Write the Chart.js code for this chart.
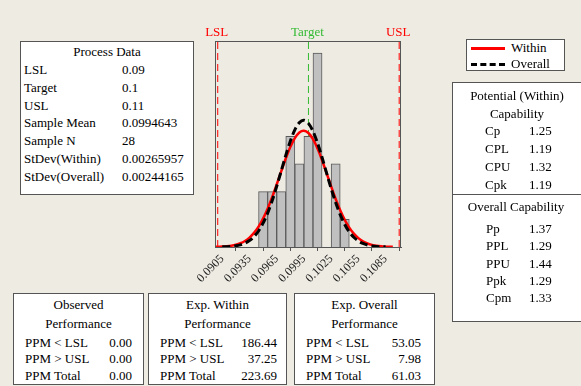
<!DOCTYPE html>
<html>
<head>
<meta charset="utf-8">
<script src="https://cdn.jsdelivr.net/npm/chart.js@4/dist/chart.umd.min.js"></script>
<style>
  html, body { margin: 0; padding: 0; background: #eeebe2; }
  #wrap { position: relative; width: 581px; height: 386px; overflow: hidden;
          font-family: "Liberation Serif", "Times New Roman", serif; font-size: 13px; color: #000; }
  #cv { position: absolute; left: 0; top: 0; }
  .box { position: absolute; background: #fff; border: 1px solid #555; box-sizing: border-box; }
  .t { position: absolute; white-space: nowrap; line-height: 16px; }
  .rule { position: absolute; height: 0; }
</style>
</head>
<body>
<div id="wrap">
  <canvas id="cv" width="581" height="386"></canvas>
</div>
<script>
// ── DATA ──────────────────────────────────────────────
const binCenters = [0.095, 0.096, 0.097, 0.098, 0.099, 0.100, 0.101, 0.102, 0.103, 0.104];
const binCounts  = [2, 2, 2, 4, 3, 4, 7, 0, 3, 1];

const withinX = [0.0897, 0.0900, 0.0905, 0.0910, 0.0915, 0.0920, 0.0925, 0.0930, 0.0935, 0.0940,
                 0.0945, 0.0950, 0.0955, 0.0960, 0.0965, 0.0970, 0.0975, 0.0980, 0.0985, 0.0990,
                 0.0995, 0.1000, 0.1005, 0.1010, 0.1015, 0.1020, 0.1025, 0.1030, 0.1035, 0.1040,
                 0.1045, 0.1050, 0.1055, 0.1060, 0.1065, 0.1070, 0.1075, 0.1080, 0.1085, 0.1090, 0.1093];
const withinY = [0.005, 0.008, 0.014, 0.027, 0.047, 0.082, 0.136, 0.219, 0.340, 0.509,
                 0.736, 1.027, 1.383, 1.798, 2.257, 2.734, 3.197, 3.609, 3.933, 4.137,
                 4.200, 4.116, 3.893, 3.555, 3.134, 2.666, 2.190, 1.736, 1.328, 0.981,
                 0.700, 0.481, 0.320, 0.205, 0.127, 0.076, 0.044, 0.024, 0.013, 0.007, 0.005];

const overallX = [0.0905, 0.0910, 0.0915, 0.0920, 0.0925, 0.0930, 0.0935, 0.0940, 0.0945, 0.0950,
                  0.0955, 0.0960, 0.0965, 0.0970, 0.0975, 0.0980, 0.0985, 0.0990, 0.0995, 0.1000,
                  0.1005, 0.1010, 0.1015, 0.1020, 0.1025, 0.1030, 0.1035, 0.1040, 0.1045, 0.1050,
                  0.1055, 0.1060, 0.1065, 0.1070, 0.1075, 0.1080, 0.1085];
const overallY = [0.005, 0.011, 0.022, 0.043, 0.078, 0.137, 0.232, 0.374, 0.579, 0.860,
                  1.225, 1.672, 2.190, 2.749, 3.310, 3.822, 4.232, 4.493, 4.575, 4.466,
                  4.182, 3.754, 3.232, 2.668, 2.112, 1.604, 1.167, 0.815, 0.545, 0.350,
                  0.216, 0.127, 0.072, 0.039, 0.020, 0.010, 0.005];

const specNames  = ["LSL", "Target", "USL"];
const specValues = [0.09, 0.1, 0.11];
const specColors = ["#ff0000", "#33bb33", "#ff0000"];

const tickValues = [0.0905, 0.0935, 0.0965, 0.0995, 0.1025, 0.1055, 0.1085];

const processLabels = ["LSL", "Target", "USL", "Sample Mean", "Sample N", "StDev(Within)", "StDev(Overall)"];
const processValues = ["0.09", "0.1", "0.11", "0.0994643", "28", "0.00265957", "0.00244165"];

const potentialLabels = ["Cp", "CPL", "CPU", "Cpk"];
const potentialValues = ["1.25", "1.19", "1.32", "1.19"];
const overallLabels   = ["Pp", "PPL", "PPU", "Ppk", "Cpm"];
const overallValues   = ["1.37", "1.29", "1.44", "1.29", "1.33"];

const ppmLabels   = ["PPM < LSL", "PPM > USL", "PPM Total"];
const observedPPM = ["0.00", "0.00", "0.00"];
const withinPPM   = ["186.44", "37.25", "223.69"];
const overallPPM  = ["53.05", "7.98", "61.03"];

const yMax = 7.44;

// ── HTML PANELS ───────────────────────────────────────
const wrap = document.getElementById("wrap");

function box(x, y, w, h) {
  const d = document.createElement("div");
  d.className = "box";
  Object.assign(d.style, { left: x + "px", top: y + "px", width: w + "px", height: h + "px" });
  wrap.appendChild(d);
}

function text(str, x, y, align) {
  const d = document.createElement("div");
  d.className = "t";
  d.textContent = str;
  const tx = align === "center" ? "-50%" : align === "right" ? "-100%" : "0";
  Object.assign(d.style, { left: x + "px", top: y + "px", transform: `translate(${tx},-50%)` });
  wrap.appendChild(d);
}

// process data
box(20, 41, 174, 154);
text("Process Data", 107, 52, "center");
processLabels.forEach((l, i) => {
  text(l, 24, 70 + i * 17.8, "left");
  text(processValues[i], 122, 70 + i * 17.8, "left");
});

// legend
box(466, 39, 99, 32);
const legendLines = [
  { y: 48, style: "3px solid #ff0000" },
  { y: 64, style: "3px dashed #000" },
];
legendLines.forEach(l => {
  const d = document.createElement("div");
  d.className = "rule";
  Object.assign(d.style, { left: "471px", top: (l.y - 1) + "px", width: "34px", borderTop: l.style });
  wrap.appendChild(d);
});
text("Within", 511, 48, "left");
text("Overall", 511, 64, "left");

// capability
box(452, 82, 140, 240);
const divider = document.createElement("div");
divider.className = "rule";
Object.assign(divider.style, { left: "452px", top: "194px", width: "140px", borderTop: "1px solid #555" });
wrap.appendChild(divider);
text("Potential (Within)", 517, 96, "center");
text("Capability", 517, 114, "center");
potentialLabels.forEach((l, i) => {
  text(l, 485, 131 + i * 18, "left");
  text(potentialValues[i], 529, 131 + i * 18, "left");
});
text("Overall Capability", 516, 207, "center");
overallLabels.forEach((l, i) => {
  text(l, 486, 229 + i * 17.3, "left");
  text(overallValues[i], 529, 229 + i * 17.3, "left");
});

// performance boxes
const perfBoxes = [
  { x: 13,  w: 131, title: "Observed",    vals: observedPPM, right: 132 },
  { x: 148, w: 139, title: "Exp. Within", vals: withinPPM,   right: 277 },
  { x: 294, w: 141, title: "Exp. Overall", vals: overallPPM, right: 421 },
];
perfBoxes.forEach(b => {
  box(b.x, 293, b.w, 92);
  text(b.title, b.x + b.w / 2, 305, "center");
  text("Performance", b.x + b.w / 2, 324, "center");
  ppmLabels.forEach((l, i) => {
    text(l, b.x + 12, 342.5 + i * 16.5, "left");
    text(b.vals[i], b.right, 342.5 + i * 16.5, "right");
  });
});

// ── CHART ─────────────────────────────────────────────
const frame = {
  id: "frame",
  afterDatasetsDraw(chart) {
    const { ctx, chartArea: a, scales } = chart;
    ctx.save();
    ctx.strokeStyle = "#555";
    ctx.lineWidth = 1;
    ctx.strokeRect(a.left + 0.5, a.top + 0.5, a.right - a.left - 1, a.bottom - a.top);
    ctx.font = "13px 'Liberation Serif'";
    ctx.textAlign = "center";
    ctx.textBaseline = "middle";
    specNames.forEach((n, i) => {
      ctx.fillStyle = specColors[i];
      ctx.fillText(n, scales.x.getPixelForValue(specValues[i]) - 1, 33);
    });
    ctx.restore();
  },
};

const specSets = specValues.map((v, i) => ({
  type: "line",
  data: [{ x: v, y: 0 }, { x: v, y: yMax }],
  borderColor: specColors[i],
  borderWidth: 1,
  borderDash: [7, 4],
  pointRadius: 0,
  order: 4,
}));

new Chart(document.getElementById("cv"), {
  type: "bar",
  data: {
    datasets: [
      {
        type: "bar",
        data: binCenters.map((c, i) => ({ x: c, y: binCounts[i] })),
        backgroundColor: "#c0c0c0",
        borderColor: "#5a5a5a",
        borderWidth: 1,
        barPercentage: 1,
        categoryPercentage: 1,
        order: 3,
      },
      {
        type: "line",
        data: withinX.map((x, i) => ({ x, y: withinY[i] })),
        borderColor: "#ff0000",
        borderWidth: 2.5,
        pointRadius: 0,
        tension: 0.3,
        order: 2,
      },
      {
        type: "line",
        data: overallX.map((x, i) => ({ x, y: overallY[i] })),
        borderColor: "#000",
        borderWidth: 3,
        borderDash: [8, 4],
        pointRadius: 0,
        tension: 0.3,
        order: 1,
      },
      ...specSets,
    ],
  },
  options: {
    responsive: false,
    animation: false,
    layout: { padding: { left: 215, right: 180, top: 41, bottom: 99 } },
    plugins: { legend: { display: false }, tooltip: { enabled: false } },
    scales: {
      x: {
        type: "linear",
        min: 0.0897,
        max: 0.1102,
        offset: false,
        afterBuildTicks: s => { s.ticks = tickValues.map(v => ({ value: v })); },
        afterFit: s => { s.height = 40; },
        ticks: {
          autoSkip: false,
          minRotation: 45,
          maxRotation: 45,
          padding: 1,
          color: "#222",
          font: { family: "Liberation Serif", size: 12 },
          callback: v => v.toFixed(4),
        },
        grid: { drawOnChartArea: false, drawTicks: true, tickLength: 4, color: "#555" },
        border: { color: "#555" },
      },
      y: { display: false, min: 0, max: yMax },
    },
  },
  plugins: [frame],
});
</script>
</body>
</html>
